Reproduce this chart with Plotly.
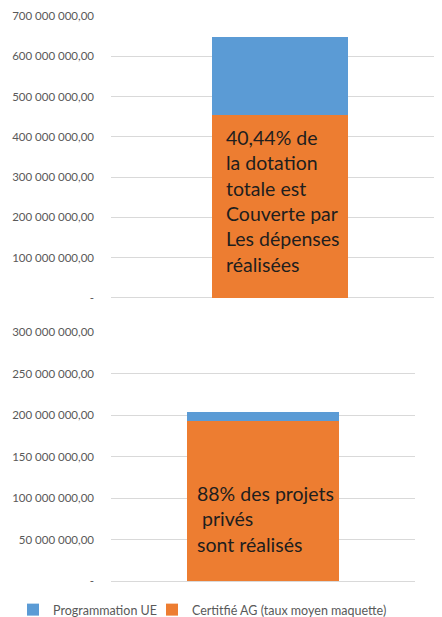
import plotly.graph_objects as go

# ---- data ----
series_names = ["Certitfié AG (taux moyen maquette)", "Programmation UE"]
top_certifie = [454_000_000]
top_programmation = [193_000_000]
bottom_certifie = [192_800_000]
bottom_programmation = [11_300_000]

top_tickvals = [0, 100e6, 200e6, 300e6, 400e6, 500e6, 600e6, 700e6]
top_ticktext = ["-", "100 000 000,00", "200 000 000,00", "300 000 000,00",
                "400 000 000,00", "500 000 000,00", "600 000 000,00", "700 000 000,00"]
bottom_tickvals = [0, 50e6, 100e6, 150e6, 200e6, 250e6, 300e6]
bottom_ticktext = ["-", "50 000 000,00", "100 000 000,00", "150 000 000,00",
                   "200 000 000,00", "250 000 000,00", "300 000 000,00"]

top_note = "40,44% de<br>la dotation<br>totale est<br>Couverte par<br>Les dépenses<br>réalisées"
bottom_note = "88% des projets<br> privés<br>sont réalisés"

BLUE = "#5b9bd5"
ORANGE = "#ed7d31"
GRID = "#d9d9d9"
TICK = "#595959"

# the page body has an 8px default margin: the figure is sized to fill the rest
W, H = 434, 609

fig = go.Figure()

# top chart
fig.add_trace(go.Bar(x=[0], y=top_certifie, name=series_names[0], marker_color=ORANGE,
                     marker_line_width=0, width=0.41, xaxis="x", yaxis="y",
                     legend="legend2", hoverinfo="skip"))
fig.add_trace(go.Bar(x=[0], y=top_programmation, name=series_names[1], marker_color=BLUE,
                     marker_line_width=0, width=0.41, xaxis="x", yaxis="y",
                     legend="legend", hoverinfo="skip"))
# bottom chart
fig.add_trace(go.Bar(x=[0], y=bottom_certifie, name=series_names[0], marker_color=ORANGE,
                     marker_line_width=0, width=0.5, xaxis="x2", yaxis="y2",
                     showlegend=False, hoverinfo="skip"))
fig.add_trace(go.Bar(x=[0], y=bottom_programmation, name=series_names[1], marker_color=BLUE,
                     marker_line_width=0, width=0.5, xaxis="x2", yaxis="y2",
                     showlegend=False, hoverinfo="skip"))

yaxis_common = dict(
    showgrid=True, gridcolor=GRID, gridwidth=1,
    zeroline=True, zerolinecolor=GRID, zerolinewidth=1,
    showline=False, ticks="", tickmode="array",
    tickfont=dict(family="Lato", size=11.5, color=TICK),
    ticklabelstandoff=16, fixedrange=True, automargin=False,
)

legend_common = dict(orientation="h", xref="container", yref="container",
                     y=1 - 602 / H, xanchor="left", yanchor="middle",
                     font=dict(family="Lato", size=12.5, color=TICK),
                     itemwidth=30, bgcolor="rgba(0,0,0,0)")

fig.update_layout(
    width=W, height=H,
    margin=dict(l=103, r=0, t=8, b=36, autoexpand=False),
    paper_bgcolor="white", plot_bgcolor="white",
    barmode="stack", bargap=0,
    font=dict(family="Lato", color=TICK),
    xaxis=dict(domain=[0, 1], range=[-0.51, 0.49], showticklabels=False, showgrid=False,
               zeroline=False, showline=False, anchor="y", fixedrange=True),
    yaxis=dict(domain=[0.5009, 1], range=[0, 700e6], tickvals=top_tickvals,
               ticktext=top_ticktext, anchor="x", **yaxis_common),
    xaxis2=dict(domain=[0, 0.9184], range=[-0.5, 0.5], showticklabels=False, showgrid=False,
                zeroline=False, showline=False, anchor="y2", fixedrange=True),
    yaxis2=dict(domain=[0, 0.4407], range=[0, 300e6], tickvals=bottom_tickvals,
                ticktext=bottom_ticktext, anchor="x2", **yaxis_common),
    legend=dict(x=5 / W, **legend_common),
    legend2=dict(x=144 / W, **legend_common),
    showlegend=True,
    annotations=[
        dict(text=top_note, xref="paper", yref="paper",
             x=(224 - 111) / 331, y=(581 - 124) / 565, xanchor="left", yanchor="top",
             align="left", showarrow=False,
             font=dict(family="Lato", size=19.5, color="#1e1e1e")),
        dict(text=bottom_note, xref="paper", yref="paper",
             x=(195 - 111) / 331, y=(581 - 480) / 565, xanchor="left", yanchor="top",
             align="left", showarrow=False,
             font=dict(family="Lato", size=19.5, color="#1e1e1e")),
    ],
)

fig.write_html("out.html")
